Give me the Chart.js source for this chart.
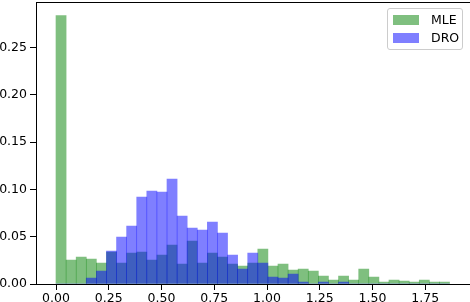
<!DOCTYPE html>
<html>
<head>
<meta charset="utf-8">
<script src="https://cdn.jsdelivr.net/npm/chart.js@4/dist/chart.umd.min.js"></script>
<style>
  html, body { margin: 0; padding: 0; background: #fff; }
  #wrap { position: relative; width: 470px; height: 302px; overflow: hidden; }
  #legend {
    position: absolute; left: 387px; top: 8px; width: 74px; height: 40px;
    border: 1px solid #cccccc; border-radius: 3px; background: rgba(255,255,255,0.8);
    font-family: "DejaVu Sans", sans-serif; font-size: 12.5px; color: #000;
  }
  .item { position: absolute; left: 5px; height: 10px; }
  .sw { position: absolute; left: 0; top: 0; width: 26px; height: 10px; }
  .lb { position: absolute; left: 38px; top: -3px; line-height: 15px; white-space: nowrap; }
</style>
</head>
<body>
<div id="wrap">
  <canvas id="c" width="470" height="302"></canvas>
  <div id="legend">
    <div class="item" style="top:6px"><div class="sw" style="background:rgba(0,128,0,0.5)"></div><span class="lb">MLE</span></div>
    <div class="item" style="top:24px"><div class="sw" style="background:rgba(0,0,255,0.5)"></div><span class="lb">DRO</span></div>
  </div>
</div>
<script>
// Bin centers (x) of the histogram bins
const binCenters = [0.02391, 0.07173, 0.11955, 0.16737, 0.21519, 0.26301, 0.31083, 0.35865, 0.40647, 0.45429,
  0.50211, 0.54993, 0.59775, 0.64557, 0.69339, 0.74121, 0.78903, 0.83685, 0.88467, 0.93249,
  0.98031, 1.02813, 1.07595, 1.12377, 1.17159, 1.21941, 1.26723, 1.31505, 1.36287, 1.41069,
  1.45851, 1.50633, 1.55415, 1.60197, 1.64979, 1.69761, 1.74543, 1.79325, 1.84107];

// MLE relative frequencies
const mleValues = [0.284, 0.0254, 0.0285, 0.0264, 0.0222, 0.0338, 0.0222, 0.0328, 0.0338, 0.0254,
  0.0307, 0.0412, 0.0211, 0.0455, 0.0222, 0.0328, 0.0285, 0.0211, 0.0190, 0.0222,
  0.0370, 0.0190, 0.0211, 0.0148, 0.0159, 0.0137, 0.0085, 0.0042, 0.0085, 0.0042,
  0.0159, 0.0074, 0.0020, 0.0042, 0.0032, 0.0020, 0.0042, 0.0020, 0.0020];

// DRO relative frequencies
const droValues = [0, 0, 0, 0.0063, 0.0137, 0.0349, 0.0497, 0.0613, 0.0920, 0.0983,
  0.0973, 0.1110, 0.0719, 0.0592, 0.0571, 0.0655, 0.0539, 0.0307, 0.0159, 0.0328,
  0.0222, 0.0074, 0.0063, 0.0106, 0.0020, 0, 0.0020, 0, 0.0020, 0,
  0, 0, 0, 0, 0, 0, 0, 0, 0];

const xTickValues = [0, 0.25, 0.5, 0.75, 1.0, 1.25, 1.5, 1.75];
const yTickValues = [0, 0.05, 0.10, 0.15, 0.20, 0.25];

const toPoints = (vals) => vals.map((v, i) => ({ x: binCenters[i], y: v }));

const topSpine = {
  id: 'topSpine',
  afterDraw(chart) {
    const { ctx, chartArea } = chart;
    ctx.save();
    ctx.strokeStyle = '#000';
    ctx.lineWidth = 1.1;
    ctx.beginPath();
    ctx.moveTo(chartArea.left, chartArea.top);
    ctx.lineTo(chartArea.right, chartArea.top);
    ctx.stroke();
    ctx.restore();
  }
};

const font = { family: 'DejaVu Sans', size: 12.5 };

new Chart(document.getElementById('c'), {
  type: 'bar',
  data: {
    datasets: [
      { label: 'DRO', data: toPoints(droValues), backgroundColor: 'rgba(0,0,255,0.5)', borderWidth: 0,
        barPercentage: 1, categoryPercentage: 1 },
      { label: 'MLE', data: toPoints(mleValues), backgroundColor: 'rgba(0,128,0,0.5)', borderWidth: 0,
        barPercentage: 1, categoryPercentage: 1 }
    ]
  },
  options: {
    responsive: false,
    animation: false,
    devicePixelRatio: 1,
    layout: { padding: { top: 2.5, right: 0, left: 0, bottom: 0 } },
    plugins: { legend: { display: false }, tooltip: { enabled: false } },
    datasets: { bar: { grouped: false } },
    scales: {
      x: {
        type: 'linear',
        offset: false,
        min: -0.0948,
        max: 1.962,
        afterFit(s) { s.height = 18; s.paddingLeft = 0; s.paddingRight = 0; },
        afterBuildTicks(s) { s.ticks = xTickValues.map(v => ({ value: v })); },
        ticks: { font, color: '#000', padding: 1, maxRotation: 0, autoSkip: false,
          callback: (v) => Number(v).toFixed(2) },
        grid: { offset: false, drawOnChartArea: false, drawTicks: true, tickLength: 6, tickColor: '#000', tickWidth: 1 },
        border: { display: true, color: '#000', width: 1 }
      },
      y: {
        min: 0,
        max: 0.2978,
        afterFit(s) { s.width = 36; s.paddingTop = 0; s.paddingBottom = 0; },
        afterBuildTicks(s) { s.ticks = yTickValues.map(v => ({ value: v })); },
        ticks: { font, color: '#000', padding: 3, callback: (v) => Number(v).toFixed(2) },
        grid: { drawOnChartArea: false, drawTicks: true, tickLength: 6, tickColor: '#000', tickWidth: 1 },
        border: { display: true, color: '#000', width: 1 }
      }
    }
  },
  plugins: [topSpine]
});
</script>
</body>
</html>
